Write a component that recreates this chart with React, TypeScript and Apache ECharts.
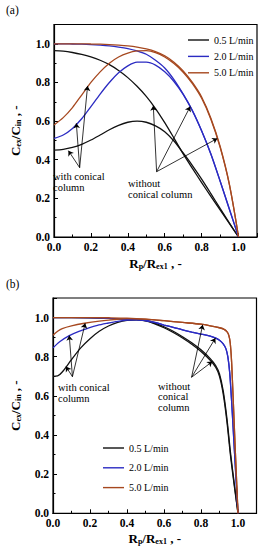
import React, { useEffect, useRef } from "react";
import * as echarts from "echarts";

// ---------- Data: panel (a) ----------
const A_BLACK_WITHOUT: [number, number][] = [
  [0, 0.965], [0.05, 0.962], [0.1, 0.955], [0.15, 0.945], [0.2, 0.932], [0.25, 0.915], [0.3, 0.892],
  [0.35, 0.862], [0.4, 0.825], [0.45, 0.78], [0.5, 0.728], [0.55, 0.665], [0.6, 0.592], [0.65, 0.512],
  [0.7, 0.43], [0.75, 0.355], [0.8, 0.282], [0.85, 0.21], [0.9, 0.14], [0.95, 0.07], [1.0, 0],
];
const A_BLACK_WITH: [number, number][] = [
  [0, 0.45], [0.05, 0.454], [0.1, 0.464], [0.15, 0.48], [0.2, 0.502], [0.25, 0.528], [0.3, 0.555],
  [0.35, 0.578], [0.4, 0.594], [0.45, 0.6], [0.5, 0.594], [0.55, 0.575], [0.6, 0.545], [0.65, 0.497],
  [0.7, 0.435], [0.75, 0.37], [0.8, 0.3], [0.85, 0.225], [0.9, 0.148], [0.95, 0.073], [1.0, 0],
];
const A_BLUE_WITHOUT: [number, number][] = [
  [0, 1.0], [0.05, 1.0], [0.1, 0.999], [0.15, 0.998], [0.2, 0.996], [0.25, 0.993], [0.3, 0.989],
  [0.35, 0.983], [0.4, 0.975], [0.45, 0.963], [0.5, 0.946], [0.55, 0.915], [0.6, 0.875], [0.65, 0.815],
  [0.7, 0.74], [0.75, 0.655], [0.8, 0.55], [0.85, 0.43], [0.9, 0.29], [0.95, 0.145], [1.0, 0],
];
const A_BLUE_WITH: [number, number][] = [
  [0, 0.51], [0.05, 0.528], [0.1, 0.562], [0.15, 0.612], [0.2, 0.675], [0.25, 0.74], [0.3, 0.8],
  [0.35, 0.85], [0.4, 0.886], [0.45, 0.905], [0.5, 0.905], [0.55, 0.89], [0.6, 0.855], [0.65, 0.805],
  [0.7, 0.738], [0.75, 0.653], [0.8, 0.549], [0.85, 0.43], [0.9, 0.29], [0.95, 0.145], [1.0, 0],
];
const A_BROWN_WITHOUT: [number, number][] = [
  [0, 1.0], [0.05, 1.0], [0.1, 1.0], [0.15, 1.0], [0.2, 0.999], [0.25, 0.998], [0.3, 0.996],
  [0.35, 0.993], [0.4, 0.989], [0.45, 0.983], [0.5, 0.974], [0.55, 0.96], [0.6, 0.938], [0.65, 0.905],
  [0.7, 0.86], [0.75, 0.8], [0.8, 0.725], [0.85, 0.615], [0.9, 0.47], [0.95, 0.275], [1.0, 0],
];
const A_BROWN_WITH: [number, number][] = [
  [0, 0.58], [0.05, 0.618], [0.1, 0.67], [0.15, 0.735], [0.2, 0.8], [0.25, 0.855], [0.3, 0.9],
  [0.35, 0.932], [0.4, 0.952], [0.45, 0.963], [0.5, 0.965], [0.55, 0.955], [0.6, 0.932], [0.65, 0.898],
  [0.7, 0.853], [0.75, 0.794], [0.8, 0.718], [0.85, 0.61], [0.9, 0.465], [0.95, 0.272], [1.0, 0],
];

// ---------- Data: panel (b) ----------
const B_BLACK_WITHOUT: [number, number][] = [
  [0, 1.0], [0.1, 1.0], [0.2, 0.999], [0.3, 0.996], [0.35, 0.993], [0.4, 0.99], [0.45, 0.99],
  [0.5, 0.985], [0.55, 0.972], [0.6, 0.953], [0.65, 0.93], [0.7, 0.902], [0.75, 0.871], [0.8, 0.835],
  [0.85, 0.79], [0.88, 0.754], [0.9, 0.712], [0.92, 0.625], [0.94, 0.485], [0.96, 0.305], [0.98, 0.15],
  [1.0, 0],
];
const B_BLACK_WITH: [number, number][] = [
  [0, 0.7], [0.025, 0.702], [0.05, 0.722], [0.1, 0.785], [0.15, 0.845], [0.2, 0.892], [0.25, 0.93],
  [0.3, 0.957], [0.35, 0.975], [0.4, 0.986], [0.45, 0.989], [0.5, 0.983], [0.55, 0.968], [0.6, 0.948],
  [0.65, 0.924], [0.7, 0.896], [0.75, 0.864], [0.8, 0.827], [0.85, 0.782], [0.88, 0.745], [0.9, 0.7],
  [0.92, 0.61], [0.94, 0.47], [0.96, 0.29], [0.98, 0.14], [1.0, 0],
];
const B_BLUE_WITHOUT: [number, number][] = [
  [0, 1.0], [0.1, 1.0], [0.2, 0.999], [0.3, 0.996], [0.4, 0.99], [0.45, 0.99], [0.5, 0.985],
  [0.55, 0.975], [0.6, 0.962], [0.65, 0.95], [0.7, 0.937], [0.75, 0.926], [0.8, 0.916], [0.85, 0.905],
  [0.88, 0.895], [0.9, 0.884], [0.92, 0.866], [0.935, 0.84], [0.945, 0.8], [0.955, 0.72], [0.965, 0.58],
  [0.98, 0.33], [1.0, 0],
];
const B_BLUE_WITH: [number, number][] = [
  [0, 0.845], [0.036, 0.877], [0.088, 0.908], [0.14, 0.93], [0.19, 0.946], [0.24, 0.96], [0.294, 0.971],
  [0.35, 0.981], [0.4, 0.987], [0.45, 0.989], [0.5, 0.985], [0.55, 0.975], [0.6, 0.962], [0.65, 0.95],
  [0.7, 0.937], [0.75, 0.926], [0.8, 0.916], [0.85, 0.905], [0.88, 0.895], [0.9, 0.884], [0.92, 0.866],
  [0.935, 0.84], [0.945, 0.8], [0.955, 0.72], [0.965, 0.58], [0.98, 0.33], [1.0, 0],
];
const B_BROWN_WITHOUT: [number, number][] = [
  [0, 1.0], [0.1, 1.0], [0.2, 1.0], [0.3, 0.999], [0.4, 0.997], [0.5, 0.992], [0.6, 0.984],
  [0.7, 0.975], [0.8, 0.966], [0.85, 0.958], [0.9, 0.948], [0.925, 0.94], [0.94, 0.928], [0.95, 0.91],
  [0.958, 0.87], [0.965, 0.78], [0.972, 0.63], [0.985, 0.33], [1.0, 0],
];
const B_BROWN_WITH: [number, number][] = [
  [0, 0.91], [0.025, 0.93], [0.05, 0.944], [0.1, 0.958], [0.17, 0.971], [0.25, 0.982], [0.33, 0.99],
  [0.4, 0.995], [0.5, 0.992], [0.6, 0.984], [0.7, 0.975], [0.8, 0.966], [0.85, 0.958], [0.9, 0.948],
  [0.925, 0.94], [0.94, 0.928], [0.95, 0.91], [0.958, 0.87], [0.965, 0.78], [0.972, 0.63], [0.985, 0.33],
  [1.0, 0],
];

// ---------- Arrows (data coordinates: [from, to]) ----------
const A_ARROWS_WITH: [number, number][][] = [
  [[0.139, 0.359], [0.078, 0.447]],
  [[0.139, 0.359], [0.121, 0.589]],
  [[0.139, 0.359], [0.182, 0.782]],
];
const A_ARROWS_WITHOUT: [number, number][][] = [
  [[0.556, 0.338], [0.538, 0.68]],
  [[0.556, 0.338], [0.738, 0.675]],
  [[0.556, 0.338], [0.885, 0.51]],
];
const B_ARROWS_WITH: [number, number][][] = [
  [[0.105, 0.698], [0.07, 0.75]],
  [[0.105, 0.698], [0.088, 0.908]],
  [[0.105, 0.698], [0.174, 0.971]],
];
const B_ARROWS_WITHOUT: [number, number][][] = [
  [[0.749, 0.695], [0.809, 0.963]],
  [[0.749, 0.695], [0.878, 0.895]],
  [[0.749, 0.695], [0.861, 0.775]],
];

const SERIES_NAMES = ["0.5 L/min", "2.0 L/min", "5.0 L/min"];
const TICK_LABELS = ["0.0", "0.2", "0.4", "0.6", "0.8", "1.0"];

const BLACK = "#111111";
const BLUE = "#2b2bc2";
const BROWN = "#a6481f";
const FONT = "'Liberation Serif', 'Times New Roman', serif";

export default function App() {
  const ref = useRef<HTMLDivElement>(null);

  useEffect(() => {
    document.body.style.margin = "0";
    if (!ref.current) return;
    const chart = echarts.init(ref.current, undefined, { renderer: "svg" });

    const fmt = (v: number) => {
      const s = v.toFixed(1);
      return TICK_LABELS.includes(s) && v <= 1.0001 ? s : "";
    };

    const rich = {
      m: { fontFamily: FONT, fontSize: 13, fontWeight: "bold", color: "#000", lineHeight: 16 },
      s: { fontFamily: FONT, fontSize: 8, fontWeight: "bold", color: "#000", lineHeight: 16, padding: [6, 0, 0, 0] },
    };

    const axisCommon = {
      type: "value",
      min: 0,
      max: 1.1,
      interval: 0.2,
      nameLocation: "middle",
      nameTextStyle: { rich },
      axisLine: { show: true, lineStyle: { color: "#000", width: 1.2 } },
      axisTick: { show: true, inside: true, length: 4, lineStyle: { color: "#000", width: 1 } },
      minorTick: { show: true, splitNumber: 2, length: 2.5, lineStyle: { color: "#000", width: 1 } },
      splitLine: { show: false },
      axisLabel: {
        formatter: fmt,
        fontFamily: FONT,
        fontSize: 11.5,
        fontWeight: "bold",
        color: "#000",
        margin: 4,
      },
    };

    const xAxisBase = (gridIndex: number, gap: number) => ({
      ...axisCommon,
      gridIndex,
      name: "{m|R}{s|p}{m|/R}{s|ex1}{m| , -}",
      nameGap: gap,
    });

    const yAxisBase = (gridIndex: number, gap: number) => ({
      ...axisCommon,
      gridIndex,
      name: "{m|C}{s|ex}{m|/C}{s|in}{m| , -}",
      nameGap: gap,
      nameRotate: 90,
    });

    const arrowLines = (arrs: [number, number][][]) =>
      arrs.map((a) => [{ coord: a[0] }, { coord: a[1] }]);

    const mkSeries = (
      name: string,
      data: [number, number][],
      color: string,
      idx: number,
      arrows?: [number, number][][]
    ) => ({
      type: "line",
      name,
      xAxisIndex: idx,
      yAxisIndex: idx,
      data,
      smooth: 0.3,
      showSymbol: false,
      symbol: "none",
      lineStyle: { color, width: 1.3 },
      itemStyle: { color },
      emphasis: { disabled: true },
      silent: true,
      markLine: arrows
        ? {
            silent: true,
            symbol: ["none", "arrow"],
            symbolSize: 5,
            label: { show: false },
            lineStyle: { color: "#000", width: 0.8, type: "solid" },
            emphasis: { disabled: true },
            data: arrowLines(arrows),
          }
        : undefined,
    });

    const textEl = (x: number, y: number, text: string, size = 10.5) => ({
      type: "text",
      x,
      y,
      style: {
        text,
        fontFamily: FONT,
        fontSize: size,
        fill: "#000",
        verticalAlign: "middle",
      },
    });

    const legendBase = (left: number, top: number, gap: number) => ({
      data: SERIES_NAMES,
      orient: "vertical",
      left,
      top,
      icon: "rect",
      itemWidth: 21,
      itemHeight: 1.4,
      itemGap: gap,
      padding: 0,
      selectedMode: false,
      textStyle: { fontFamily: FONT, fontSize: 10, color: "#000", lineHeight: 12 },
    });

    chart.setOption({
      animation: false,
      backgroundColor: "#fff",
      grid: [
        { left: 45, top: 24.5, width: 212, height: 212.5, show: true, borderColor: "#000", borderWidth: 1.2, containLabel: false },
        { left: 43, top: 298, width: 213.5, height: 215.3, show: true, borderColor: "#000", borderWidth: 1.2, containLabel: false },
      ],
      xAxis: [xAxisBase(0, 18), xAxisBase(1, 17)],
      yAxis: [yAxisBase(0, 31), yAxisBase(1, 30)],
      legend: [legendBase(188, 34, 4.4), legendBase(103, 442, 7.8)],
      series: [
        mkSeries(SERIES_NAMES[0], A_BLACK_WITHOUT, BLACK, 0, A_ARROWS_WITHOUT),
        mkSeries(SERIES_NAMES[0], A_BLACK_WITH, BLACK, 0, A_ARROWS_WITH),
        mkSeries(SERIES_NAMES[1], A_BLUE_WITHOUT, BLUE, 0),
        mkSeries(SERIES_NAMES[1], A_BLUE_WITH, BLUE, 0),
        mkSeries(SERIES_NAMES[2], A_BROWN_WITHOUT, BROWN, 0),
        mkSeries(SERIES_NAMES[2], A_BROWN_WITH, BROWN, 0),
        mkSeries(SERIES_NAMES[0], B_BLACK_WITHOUT, BLACK, 1, B_ARROWS_WITHOUT),
        mkSeries(SERIES_NAMES[0], B_BLACK_WITH, BLACK, 1, B_ARROWS_WITH),
        mkSeries(SERIES_NAMES[1], B_BLUE_WITHOUT, BLUE, 1),
        mkSeries(SERIES_NAMES[1], B_BLUE_WITH, BLUE, 1),
        mkSeries(SERIES_NAMES[2], B_BROWN_WITHOUT, BROWN, 1),
        mkSeries(SERIES_NAMES[2], B_BROWN_WITH, BROWN, 1),
      ],
      graphic: [
        textEl(6, 10, "(a)", 11.5),
        textEl(6, 284, "(b)", 11.5),
        textEl(53, 176, "with conical"),
        textEl(53, 187, "column"),
        textEl(128, 183, "without"),
        textEl(128, 194, "conical column"),
        textEl(58, 387.5, "with conical"),
        textEl(58, 398.5, "column"),
        textEl(158, 386.5, "without"),
        textEl(158, 396.8, "conical"),
        textEl(158, 407, "column"),
      ],
    });

    return () => chart.dispose();
  }, []);

  return <div ref={ref} style={{ width: 263, height: 550 }} />;
}
